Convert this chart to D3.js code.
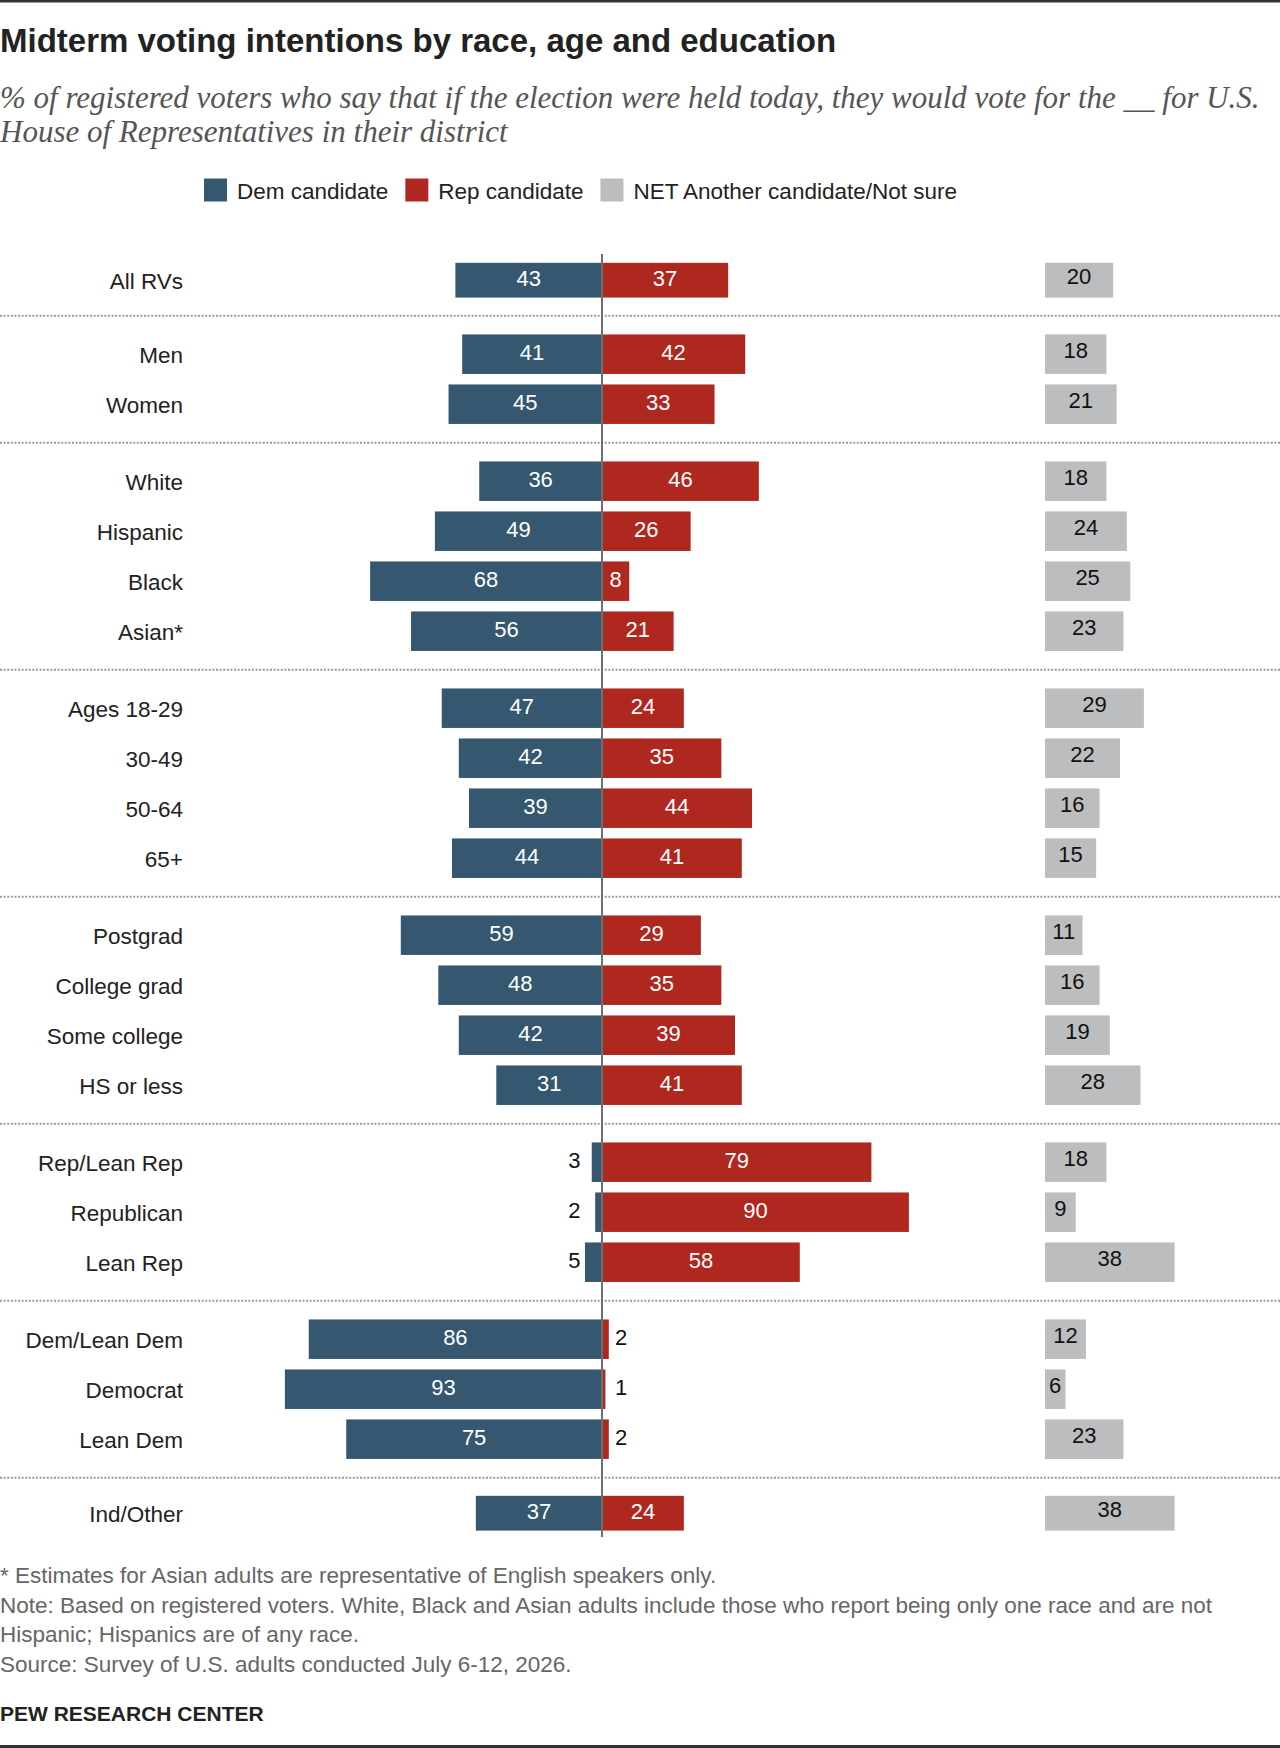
<!DOCTYPE html>
<html>
<head>
<meta charset="utf-8">
<script src="https://cdn.jsdelivr.net/npm/d3@7"></script>
<style>
  html, body { margin: 0; padding: 0; background: #fff; }
  svg { display: block; }
</style>
</head>
<body>
<script>
// ---------------- DATA ----------------
const categories = ["All RVs","Men","Women","White","Hispanic","Black","Asian*",
  "Ages 18-29","30-49","50-64","65+","Postgrad","College grad","Some college","HS or less",
  "Rep/Lean Rep","Republican","Lean Rep","Dem/Lean Dem","Democrat","Lean Dem","Ind/Other"];
const groupIndex = [0,1,1,2,2,2,2,3,3,3,3,4,4,4,4,5,5,5,6,6,6,7];
const demValues   = [43,41,45,36,49,68,56,47,42,39,44,59,48,42,31,3,2,5,86,93,75,37];
const repValues   = [37,42,33,46,26,8,21,24,35,44,41,29,35,39,41,79,90,58,2,1,2,24];
const otherValues = [20,18,21,18,24,25,23,29,22,16,15,11,16,19,28,18,9,38,12,6,23,38];
const seriesNames = ["Dem candidate","Rep candidate","NET Another candidate/Not sure"];

const titleText = "Midterm voting intentions by race, age and education";
const subtitleLines = [
  "% of registered voters who say that if the election were held today, they would vote for the __ for U.S.",
  "House of Representatives in their district"
];
const noteLines = [
  "* Estimates for Asian adults are representative of English speakers only.",
  "Note: Based on registered voters. White, Black and Asian adults include those who report being only one race and are not",
  "Hispanic; Hispanics are of any race.",
  "Source: Survey of U.S. adults conducted July 6-12, 2026."
];
const sourceText = "PEW RESEARCH CENTER";

// ---------------- STYLE ----------------
const W = 1280, H = 1748;
const colors = ["#355770", "#AF2820", "#BCBDBF"];
const sans = "'Liberation Sans', Arial, sans-serif";
const serif = "'Liberation Serif', 'Times New Roman', serif";

const svg = d3.select("body").append("svg").attr("width", W).attr("height", H);

// top & bottom rules
svg.append("rect").attr("x",0).attr("y",0).attr("width",W).attr("height",2.5).attr("fill","#333");
svg.append("rect").attr("x",0).attr("y",H-3).attr("width",W).attr("height",3).attr("fill","#333");

// title
svg.append("text").attr("x",0).attr("y",51.5)
  .attr("font-family",sans).attr("font-weight","bold").attr("font-size",33)
  .attr("fill","#222").text(titleText);

// subtitle
svg.selectAll("text.sub").data(subtitleLines).join("text").attr("class","sub")
  .attr("x",0).attr("y",(d,i)=>108 + i*34)
  .attr("font-family",serif).attr("font-style","italic").attr("font-size",31)
  .attr("fill","#555").text(d=>d);

// legend
{
  let x = 204;
  seriesNames.forEach((name,i)=>{
    const g = svg.append("g");
    g.append("rect").attr("x",x).attr("y",178.5).attr("width",23).attr("height",23).attr("fill",colors[i]);
    const t = g.append("text").attr("x",x+33).attr("y",198.5)
      .attr("font-family",sans).attr("font-size",22.5).attr("fill","#222").text(name);
    x = x + 33 + t.node().getComputedTextLength() + 17;
  });
}

// ---------------- LAYOUT ----------------
const center = 602;
const otherStart = 1045;
const x = d3.scaleLinear().domain([0,100]).range([0,341]);

// vertical positions: rows stacked with group gaps, single-row groups are shorter
const groupSizes = d3.rollup(groupIndex, v=>v.length, d=>d);
const pitchMulti = 50, pitchSingle = 44, groupGap = 27;
const rows = [];
const separators = [];
{
  let cursor = 258.2;
  categories.forEach((c,i)=>{
    const g = groupIndex[i];
    if (i>0 && g !== groupIndex[i-1]) {
      separators.push(cursor + groupGap/2);
      cursor += groupGap;
    }
    const pitch = groupSizes.get(g) > 1 ? pitchMulti : pitchSingle;
    rows.push({cat:c, dem:demValues[i], rep:repValues[i], other:otherValues[i],
      cy: cursor + pitch/2, h: pitch*0.79});
    cursor += pitch;
  });
}

// separators
svg.selectAll("line.sep").data(separators).join("line").attr("class","sep")
  .attr("x1",0).attr("x2",W).attr("y1",d=>d).attr("y2",d=>d)
  .attr("stroke","#9a9a9a").attr("stroke-width",2).attr("stroke-dasharray","2,1.6");

// category labels
svg.selectAll("text.cat").data(rows).join("text").attr("class","cat")
  .attr("x",183).attr("y",d=>d.cy+8.5).attr("text-anchor","end")
  .attr("font-family",sans).attr("font-size",22.5).attr("fill","#222").text(d=>d.cat);

// dem bars
svg.selectAll("rect.dem").data(rows).join("rect").attr("class","dem")
  .attr("x",d=>center - x(d.dem)).attr("y",d=>d.cy-d.h/2)
  .attr("width",d=>x(d.dem)).attr("height",d=>d.h).attr("fill",colors[0]);
// rep bars
svg.selectAll("rect.rep").data(rows).join("rect").attr("class","rep")
  .attr("x",center).attr("y",d=>d.cy-d.h/2)
  .attr("width",d=>x(d.rep)).attr("height",d=>d.h).attr("fill",colors[1]);
// other bars
svg.selectAll("rect.oth").data(rows).join("rect").attr("class","oth")
  .attr("x",otherStart).attr("y",d=>d.cy-d.h/2)
  .attr("width",d=>x(d.other)).attr("height",d=>d.h).attr("fill",colors[2]);

// center axis
svg.append("line").attr("x1",center).attr("x2",center).attr("y1",254).attr("y2",1537)
  .attr("stroke","#6f6f6f").attr("stroke-width",2);

// value labels
const small = 6;
svg.selectAll("text.demv").data(rows).join("text").attr("class","demv")
  .attr("x",d=> d.dem < small ? center - 21.5 : center - x(d.dem)/2)
  .attr("text-anchor",d=> d.dem < small ? "end" : "middle")
  .attr("y",d=>d.cy+6)
  .attr("font-family",sans).attr("font-size",22)
  .attr("fill",d=> d.dem < small ? "#111" : "#fff").text(d=>d.dem);
svg.selectAll("text.repv").data(rows).join("text").attr("class","repv")
  .attr("x",d=> d.rep < small ? center + 13 : center + x(d.rep)/2)
  .attr("text-anchor",d=> d.rep < small ? "start" : "middle")
  .attr("y",d=>d.cy+6)
  .attr("font-family",sans).attr("font-size",22)
  .attr("fill",d=> d.rep < small ? "#111" : "#fff").text(d=>d.rep);
svg.selectAll("text.othv").data(rows).join("text").attr("class","othv")
  .attr("x",d=> otherStart + x(d.other)/2).attr("text-anchor","middle")
  .attr("y",d=>d.cy+4)
  .attr("font-family",sans).attr("font-size",22).attr("fill","#111").text(d=>d.other);

// notes
svg.selectAll("text.note").data(noteLines).join("text").attr("class","note")
  .attr("x",0).attr("y",(d,i)=>1583 + i*29.7)
  .attr("font-family",sans).attr("font-size",22.5).attr("fill","#666").text(d=>d);
svg.append("text").attr("x",0).attr("y",1720.5)
  .attr("font-family",sans).attr("font-weight","bold").attr("font-size",21)
  .attr("fill","#222").text(sourceText);
</script>
</body>
</html>
